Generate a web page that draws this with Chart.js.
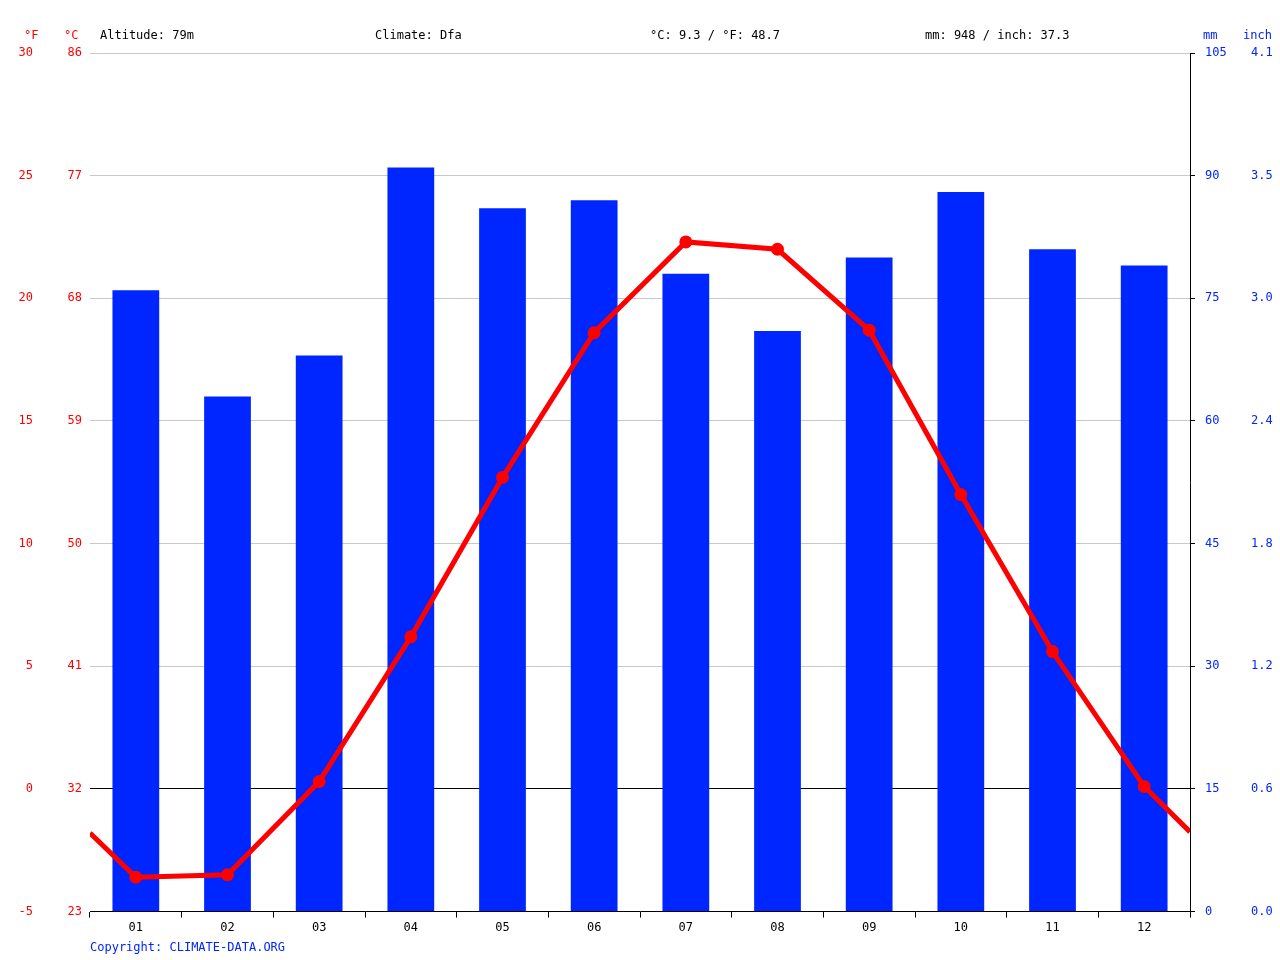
<!DOCTYPE html>
<html><head><meta charset="utf-8">
<script src="https://cdn.jsdelivr.net/npm/chart.js@4"></script>
<style>body{margin:0;background:#fff}#w{width:1280px;height:960px}</style>
</head><body><div id="w"><canvas id="c" width="1280" height="960"></canvas></div>
<script>
const months = ["01","02","03","04","05","06","07","08","09","10","11","12"];
const precipMm = [76,63,68,91,86,87,78,71,80,88,81,79];
const tempC = [-3.6,-3.5,0.3,6.2,12.7,18.6,22.3,22.0,18.7,12.0,5.6,0.1];
const edgeTempC = [-1.8,-1.75];
const fLabels = {"-5":"23","0":"32","5":"41","10":"50","15":"59","20":"68","25":"77","30":"86"};
const inchLabels = {"0":"0.0","15":"0.6","30":"1.2","45":"1.8","60":"2.4","75":"3.0","90":"3.5","105":"4.1"};
const header = ["Altitude: 79m","Climate: Dfa","°C: 9.3 / °F: 48.7","mm: 948 / inch: 37.3"];

const FONT = {family:"DejaVu Sans Mono", size:12};
const RED="#ff0000", BLUE="#0026ff";
const lineData = [{x:0.5,y:edgeTempC[0]}].concat(tempC.map((v,i)=>({x:i+1,y:v}))).concat([{x:12.5,y:edgeTempC[1]}]);
const radii = lineData.map((p,i)=> (i===0||i===lineData.length-1)?0:4);

const textPlugin = {id:"txt", afterDraw(ch){
  const c=ch.ctx; c.save(); c.font="12px 'DejaVu Sans Mono'"; c.textBaseline="middle";
  c.fillStyle=RED; c.fillText("°F",24,36); c.fillText("°C",64,36);
  c.fillStyle=BLUE; c.fillText("mm",1203,36); c.fillText("inch",1243,36);
  c.fillStyle="#000"; const xs=[100,375,650,925];
  header.forEach((t,i)=>c.fillText(t,xs[i],36));
  c.fillStyle=BLUE; c.fillText("Copyright: CLIMATE-DATA.ORG",90,948);
  c.restore();
}};

new Chart(document.getElementById("c"),{
  data:{datasets:[
    {type:"line",data:lineData,xAxisID:"x",yAxisID:"yC",borderColor:RED,backgroundColor:RED,borderWidth:5,pointRadius:radii,pointBackgroundColor:RED,tension:0,order:0},
    {type:"bar",data:precipMm.map((v,i)=>({x:i+1,y:v})),xAxisID:"x",yAxisID:"yMm",backgroundColor:BLUE,barPercentage:0.51,categoryPercentage:1,order:1}
  ]},
  options:{responsive:false,animation:false,
    layout:{padding:{top:53,bottom:22,left:0,right:0}},
    plugins:{legend:{display:false},tooltip:{enabled:false}},
    scales:{
      x:{type:"linear",min:0.5,max:12.5,offset:false,
        afterBuildTicks(a){a.ticks=months.map((m,i)=>({value:i+1}));},
        ticks:{font:FONT,color:"#000",callback:(v)=>months[v-1]},
        grid:{drawOnChartArea:false,tickLength:6,color:"#000"},border:{color:"#000"}},
      yF:{type:"linear",position:"left",min:-5,max:30,
        afterBuildTicks(a){a.ticks=Object.keys(fLabels).map(k=>({value:+k}));},
        ticks:{font:FONT,color:RED,callback:v=>fLabels[v],padding:0},
        grid:{display:false},border:{display:false},afterFit(a){a.width=45;}},
      yC:{type:"linear",position:"left",min:-5,max:30,
        ticks:{stepSize:5,font:FONT,color:RED,padding:12},
        grid:{color:c=>c.tick.value===0?"#000":"#c8c8c8",drawTicks:false},
        border:{display:false},afterFit(a){a.width=45;}},
      yMm:{type:"linear",position:"right",min:0,max:105,
        ticks:{stepSize:15,font:FONT,color:BLUE,padding:10},
        grid:{drawOnChartArea:false,tickLength:5,color:"#000"},border:{color:"#000"},afterFit(a){a.width=45;}},
      yIn:{type:"linear",position:"right",min:0,max:105,
        afterBuildTicks(a){a.ticks=Object.keys(inchLabels).map(k=>({value:+k}));},
        ticks:{font:FONT,color:BLUE,callback:v=>inchLabels[v],padding:8},
        grid:{display:false},border:{display:false},afterFit(a){a.width=45;}}
    }},
  plugins:[textPlugin]
});
</script></body></html>
